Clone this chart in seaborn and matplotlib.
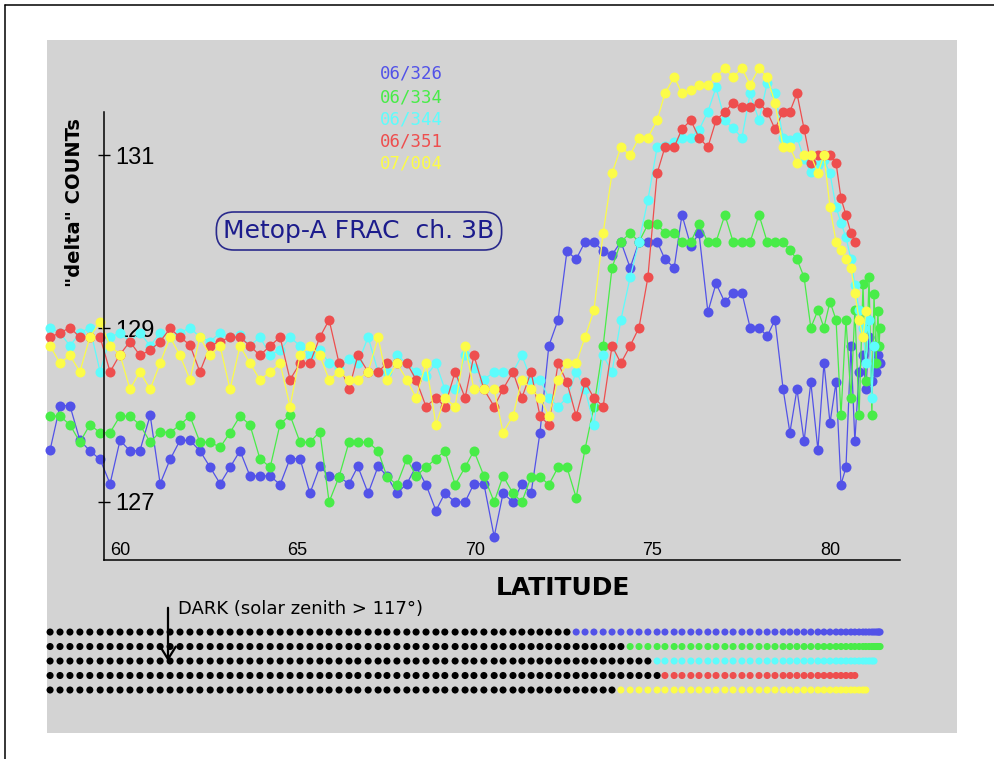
import numpy as np
import pandas as pd
import matplotlib
matplotlib.use("Agg")
import matplotlib.pyplot as plt
import seaborn as sns
from matplotlib.patches import Rectangle, FancyArrowPatch
from matplotlib.lines import Line2D

nan = np.nan

# ---- data (latitude samples and "delta" counts per orbit) ----
lat = [58.03, 58.31, 58.59, 58.87, 59.15, 59.44, 59.72, 60.00, 60.28, 60.56,
       60.85, 61.13, 61.41, 61.69, 61.97, 62.25, 62.54, 62.82, 63.10, 63.38,
       63.66, 63.94, 64.23, 64.51, 64.79, 65.07, 65.35, 65.63, 65.89, 66.17,
       66.45, 66.70, 66.99, 67.27, 67.52, 67.80, 68.08, 68.34, 68.62, 68.90,
       69.15, 69.44, 69.72, 69.97, 70.25, 70.54, 70.79, 71.07, 71.32, 71.58,
       71.83, 72.08, 72.34, 72.59, 72.85, 73.10, 73.35, 73.61, 73.86, 74.11,
       74.37, 74.62, 74.87, 75.13, 75.35, 75.61, 75.83, 76.08, 76.31, 76.56,
       76.79, 77.04, 77.27, 77.52, 77.75, 78.00, 78.23, 78.45, 78.68, 78.87,
       79.07, 79.27, 79.46, 79.66, 79.83, 80.00, 80.17, 80.31, 80.45, 80.59,
       80.70, 80.82, 80.93, 81.01, 81.10, 81.18, 81.24, 81.30, 81.35, 81.38, 81.41]

counts_06_326 = [127.60, 128.11, 128.11, 127.71, 127.59, 127.49, 127.21, 127.71, 127.59, 127.59,
                 128.00, 127.21, 127.49, 127.71, 127.71, 127.59, 127.40, 127.21, 127.40, 127.59,
                 127.30, 127.30, 127.30, 127.20, 127.50, 127.50, 127.10, 127.41, 127.30, 127.29,
                 127.21, 127.41, 127.10, 127.41, 127.30, 127.10, 127.21, 127.41, 127.20, 126.90,
                 127.10, 127.00, 127.00, 127.21, 127.21, 126.60, 127.10, 127.00, 127.21, 127.10,
                 127.80, 128.80, 129.10, 129.89, 129.80, 130.00, 130.00, 129.89, 129.85, 130.00,
                 129.70, 130.00, 130.00, 130.00, 129.80, 129.70, 130.31, 129.95, 130.10, 129.19,
                 129.52, 129.30, 129.41, 129.41, 129.01, 129.01, 128.91, 129.10, 128.30, 127.80,
                 128.30, 127.70, 128.38, 127.60, 128.60, 127.91, 128.38, 127.20, 127.40, 128.80,
                 127.70, 128.50, 128.70, 128.30, 128.90, 128.40, 128.80, 128.50, 128.70, 128.60, 128.60]

counts_06_334 = [127.99, 127.99, 127.89, 127.69, 127.89, 127.80, 127.80, 127.99, 127.99, 127.89,
                 127.69, 127.81, 127.80, 127.89, 127.99, 127.69, 127.69, 127.63, 127.80, 127.99,
                 127.89, 127.50, 127.40, 127.90, 128.00, 127.69, 127.69, 127.81, 127.00, 127.29,
                 127.69, 127.69, 127.69, 127.59, 127.29, 127.20, 127.50, 127.30, 127.40, 127.50,
                 127.59, 127.20, 127.40, 127.59, 127.30, 127.00, 127.30, 127.10, 127.00, 127.29,
                 127.29, 127.20, 127.40, 127.40, 127.05, 127.61, 128.10, 128.80, 129.70, 130.00,
                 130.10, 130.00, 130.20, 130.20, 130.10, 130.10, 130.00, 130.00, 130.20, 130.00,
                 130.00, 130.31, 130.00, 130.00, 130.00, 130.31, 130.00, 130.00, 130.00, 129.90,
                 129.80, 129.59, 129.01, 129.21, 129.01, 129.31, 129.10, 128.00, 129.10, 128.20,
                 129.21, 128.00, 129.51, 128.40, 129.59, 128.00, 129.40, 128.60, 129.20, 128.80, 129.00]

counts_06_344 = [129.01, 128.95, 128.80, 128.95, 129.01, 128.50, 128.90, 128.95, 128.85, 128.95,
                 128.80, 128.95, 128.90, 128.95, 129.01, 128.90, 128.85, 128.95, 128.90, 128.92,
                 128.80, 128.90, 128.70, 128.75, 128.90, 128.80, 128.69, 128.75, 128.60, 128.55,
                 128.65, 128.60, 128.90, 128.50, 128.50, 128.69, 128.60, 128.50, 128.45, 128.60,
                 128.30, 128.30, 128.69, 128.55, 128.41, 128.50, 128.50, 128.50, 128.69, 128.41,
                 128.41, 128.20, 128.10, 128.20, 128.50, 128.30, 127.89, 128.69, 128.50, 129.10,
                 129.59, 130.00, 130.48, 131.09, 131.10, 131.15, 131.20, 131.20, 131.29, 131.50,
                 131.78, 131.40, 131.31, 131.20, 131.71, 131.40, 131.83, 131.71, 131.20, 131.17,
                 131.21, 130.95, 130.80, 130.88, 130.94, 130.79, 130.40, 130.22, 130.05, 129.80,
                 129.50, 129.21, 129.00, 128.60, 129.10, 128.20, 128.80, nan, nan, nan, nan]

counts_06_351 = [128.90, 128.95, 129.01, 128.90, 128.90, 128.90, 128.50, 128.70, 128.85, 128.69,
                 128.75, 128.85, 129.00, 128.90, 128.81, 128.50, 128.80, 128.85, 128.90, 128.90,
                 128.80, 128.69, 128.80, 128.90, 128.41, 128.60, 128.60, 128.90, 129.10, 128.60,
                 128.30, 128.69, 128.50, 128.50, 128.60, 128.60, 128.60, 128.41, 128.10, 128.20,
                 128.10, 128.50, 128.20, 128.69, 128.30, 128.10, 128.30, 128.50, 128.20, 128.50,
                 127.99, 127.89, 128.60, 128.38, 127.99, 128.38, 128.20, 128.10, 128.80, 128.60,
                 128.80, 129.01, 129.59, 130.79, 131.09, 131.09, 131.30, 131.40, 131.20, 131.09,
                 131.40, 131.50, 131.60, 131.55, 131.55, 131.60, 131.50, 131.30, 131.50, 131.50,
                 131.71, 131.30, 130.91, 131.00, 131.00, 131.00, 130.91, 130.50, 130.31, 130.10,
                 130.00, nan, nan, nan, nan, nan, nan, nan, nan, nan, nan]

counts_07_004 = [128.80, 128.60, 128.69, 128.50, 128.90, 129.08, 128.80, 128.70, 128.30, 128.50,
                 128.30, 128.60, 128.90, 128.69, 128.41, 128.90, 128.69, 128.80, 128.30, 128.80,
                 128.60, 128.41, 128.50, 128.60, 128.10, 128.69, 128.80, 128.69, 128.41, 128.50,
                 128.41, 128.41, 128.50, 128.90, 128.41, 128.60, 128.41, 128.20, 128.60, 127.89,
                 128.20, 128.10, 128.80, 128.30, 128.30, 128.30, 127.80, 127.99, 128.41, 128.30,
                 128.20, 127.99, 128.41, 128.60, 128.60, 128.90, 129.21, 130.10, 130.79, 131.09,
                 131.00, 131.20, 131.20, 131.40, 131.71, 131.90, 131.71, 131.75, 131.81, 131.81,
                 131.90, 132.00, 131.90, 132.00, 131.81, 132.00, 131.90, 131.60, 131.09, 131.09,
                 130.91, 131.00, 131.00, 130.79, 131.00, 130.40, 130.00, 129.90, 129.80, 129.70,
                 129.41, 129.10, 128.90, 129.20, nan, nan, nan, nan, nan, nan, nan]

series_labels = ["06/326", "06/334", "06/344", "06/351", "07/004"]
series_colors = ["#5252e8", "#48ec48", "#5efcfc", "#ee4e4e", "#fcfc48"]
dark_limit = [72.75, 74.25, 75.10, 75.30, 74.00]   # latitude where solar zenith drops below 117 deg
x_ticks = [60, 65, 70, 75, 80]
y_ticks = [127, 129, 131]

all_counts = [counts_06_326, counts_06_334, counts_06_344, counts_06_351, counts_07_004]

rows = []
dots = []
for i, (lab, vals) in enumerate(zip(series_labels, all_counts)):
    for la, v in zip(lat, vals):
        if not np.isnan(v):
            rows.append({"lat": la, "count": v, "series": lab})
            dots.append({"lat": la, "row": i,
                         "state": lab if la >= dark_limit[i] else "dark"})
df = pd.DataFrame(rows)
dfd = pd.DataFrame(dots)

sns.set_theme(style="white")
plt.rcParams['font.family'] = ['Liberation Sans', 'DejaVu Sans']
plt.rcParams['text.color'] = 'black'

W, H = 995, 759
fig = plt.figure(figsize=(W / 100, H / 100), dpi=100)
fig.patch.set_facecolor("white")

# gray panel and frame lines
fig.add_artist(Rectangle((47 / W, 1 - 733 / H), 910 / W, 693 / H, transform=fig.transFigure,
                         facecolor="#d3d3d3", edgecolor="none", zorder=-5))
fig.add_artist(Line2D([5 / W, 1], [1 - 5 / H, 1 - 5 / H], transform=fig.transFigure,
                      color="black", lw=1.1))
fig.add_artist(Line2D([5 / W, 5 / W], [0, 1 - 5 / H], transform=fig.transFigure,
                      color="black", lw=1.1))

# main axes
ax = fig.add_axes([104 / W, 1 - 560 / H, 796 / W, 448 / H])
ax.set_facecolor("none")
palette = dict(zip(series_labels, series_colors))
sns.lineplot(data=df, x="lat", y="count", hue="series", hue_order=series_labels,
             palette=palette, marker="o", markersize=7.2, markeredgewidth=0,
             linewidth=0.9, estimator=None, sort=False, legend=False,
             ax=ax, clip_on=False)

ax.set_xlim(59.549, 81.972)
ax.set_ylim(126.331, 131.496)
for s in ["top", "right"]:
    ax.spines[s].set_visible(False)
for s in ["left", "bottom"]:
    ax.spines[s].set_color("black")
    ax.spines[s].set_linewidth(1.1)
ax.set_xticks(x_ticks)
ax.set_yticks(y_ticks)
ax.set_xticklabels([str(t) for t in x_ticks])
ax.set_yticklabels([str(t) for t in y_ticks])
ax.tick_params(axis="x", bottom=False, length=0, pad=-13, labelsize=13,
               labelcolor="black")
ax.tick_params(axis="y", left=True, direction="inout", length=8, width=1, pad=-12,
               labelsize=17, color="black", labelcolor="black")
for t in ax.get_yticklabels():
    t.set_horizontalalignment("left")
ax.set_xlabel("")
ax.set_ylabel("")

# axis titles
fig.text(75 / W, 1 - 203 / H, '"delta" COUNTs', rotation=90, ha="center", va="center",
         fontsize=14, fontweight="bold", family="DejaVu Sans", color="black")
fig.text(563 / W, 1 - 588 / H, "LATITUDE", ha="center", va="center",
         fontsize=18, fontweight="bold", family="DejaVu Sans", color="black")

# boxed title
fig.text(359 / W, 1 - 231 / H, "Metop-A FRAC  ch. 3B", ha="center", va="center",
         fontsize=18, color="#1c1c8c", family="DejaVu Sans",
         bbox=dict(boxstyle="round,pad=0.28,rounding_size=0.7", fc="none",
                   ec="#2a2a8c", lw=1.2))

# legend text
for lab, col, yy in zip(series_labels, series_colors, [73, 97, 119, 142, 164]):
    fig.text(411 / W, 1 - yy / H, lab, ha="center", va="center", fontsize=12.5,
             color=col, family="DejaVu Sans Mono")

# bottom dot rows (dark / lit)
axd = fig.add_axes([104 / W, 1 - 700 / H, 796 / W, 80 / H])
axd.set_facecolor("none")
dot_pal = dict(palette)
dot_pal["dark"] = "black"
sns.scatterplot(data=dfd, x="lat", y="row", hue="state", palette=dot_pal, s=26,
                linewidth=0, legend=False, ax=axd, clip_on=False)
axd.set_xlim(59.549, 81.972)
axd.set_ylim(4.69, -0.83)
axd.axis("off")

# DARK annotation
fig.text(178 / W, 1 - 609 / H, "DARK (solar zenith > 117°)", ha="left", va="center",
         fontsize=13, color="black", family="DejaVu Sans")
fig.add_artist(FancyArrowPatch((168 / W, 1 - 605 / H), (168 / W, 1 - 664 / H),
                               transform=fig.transFigure,
                               arrowstyle="->,head_length=0.45,head_width=0.28",
                               mutation_scale=20, lw=1.6, color="black"))

fig.savefig("out.png", dpi=100)
